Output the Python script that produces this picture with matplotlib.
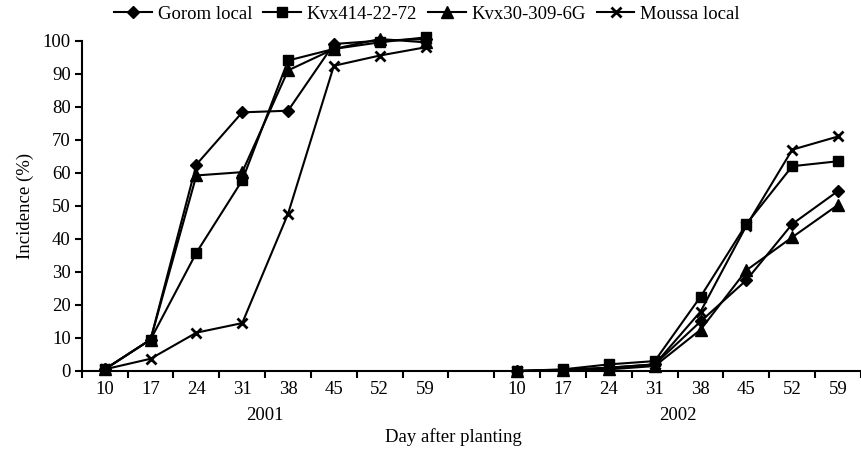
import numpy as np
import matplotlib.pyplot as plt

# days after planting (same sampling in both seasons)
days = [10, 17, 24, 31, 38, 45, 52, 59]
years = ["2001", "2002"]

# incidence (%) per variety, 2001 season
gorom_2001 = [0.5, 9.5, 62.5, 78.3, 78.8, 99.0, 100.0, 100.5]
kvx414_2001 = [0.5, 9.5, 35.8, 57.7, 94.0, 97.5, 99.5, 101.0]
kvx30_2001 = [0.5, 9.5, 59.2, 60.2, 91.0, 97.5, 100.5, 99.5]
moussa_2001 = [0.5, 3.7, 11.6, 14.5, 47.6, 92.4, 95.5, 98.0]

# incidence (%) per variety, 2002 season
gorom_2002 = [0.0, 0.3, 1.0, 2.0, 15.0, 27.5, 44.5, 54.5]
kvx414_2002 = [0.0, 0.5, 2.0, 3.0, 22.5, 44.5, 62.0, 63.5]
kvx30_2002 = [0.0, 0.3, 0.5, 1.5, 12.5, 30.5, 40.5, 50.3]
moussa_2002 = [0.0, 0.3, 1.0, 2.0, 18.0, 44.0, 67.0, 71.0]

names = ["Gorom local", "Kvx414-22-72", "Kvx30-309-6G", "Moussa local"]
series_2001 = [gorom_2001, kvx414_2001, kvx30_2001, moussa_2001]
series_2002 = [gorom_2002, kvx414_2002, kvx30_2002, moussa_2002]
markers = ["D", "s", "^", "x"]
msizes = [6.5, 7.5, 8.5, 7]

plt.rcParams['font.family'] = ['Liberation Serif', 'DejaVu Serif']
plt.rcParams['font.size'] = 13.5

fig = plt.figure(figsize=(8.61, 4.51), dpi=100)
ax = fig.add_axes([0.095, 0.1774, 0.905, 0.7324])

# 2001 in slots 0..7, one empty slot, 2002 in slots 9..16
n = len(days)
x01 = np.arange(n)
x02 = np.arange(n) + n + 1

handles = []
for name, s1, s2, m, ms in zip(names, series_2001, series_2002, markers, msizes):
    mew = 2 if m == "x" else 1
    h, = ax.plot(x01, s1, color="k", lw=1.5, marker=m, ms=ms, mew=mew,
                 clip_on=False, label=name)
    ax.plot(x02, s2, color="k", lw=1.5, marker=m, ms=ms, mew=mew, clip_on=False)
    handles.append(h)

ax.set_xlim(-0.5, 2 * n + 0.5)
ax.set_ylim(0, 100)
ax.set_yticks(np.arange(0, 101, 10))

# tick marks sit between the categories, labels at the centres
ax.set_xticks(np.arange(-0.5, 2 * n + 1, 1.0))
ax.set_xticklabels([])
ax.set_xticks(np.concatenate([x01, x02]), minor=True)
ax.set_xticklabels([str(d) for d in days] * 2, minor=True)
ax.tick_params(axis="x", which="major", direction="out", length=5, width=1.5)
ax.tick_params(axis="x", which="minor", length=0, pad=7)
ax.tick_params(axis="y", direction="out", length=5, width=1.5, pad=3)

for side in ["top", "right"]:
    ax.spines[side].set_visible(False)
ax.spines["left"].set_linewidth(1.5)
ax.spines["bottom"].set_linewidth(1.5)

ax.set_ylabel("Incidence (%)", labelpad=6)

# season labels under each block
for xc, yr in zip([x01.mean(), x02.mean()], years):
    ax.text(xc, -0.135, yr, ha="center", va="center", transform=ax.get_xaxis_transform())
fig.text(0.527, 0.03, "Day after planting", ha="center", va="center")

fig.legend(handles=handles, labels=names, loc="center", bbox_to_anchor=(0.496, 0.968),
           ncol=4, frameon=False, handlelength=2.0, handletextpad=0.3,
           columnspacing=0.6, borderaxespad=0)

fig.savefig("out.png", dpi=100)
